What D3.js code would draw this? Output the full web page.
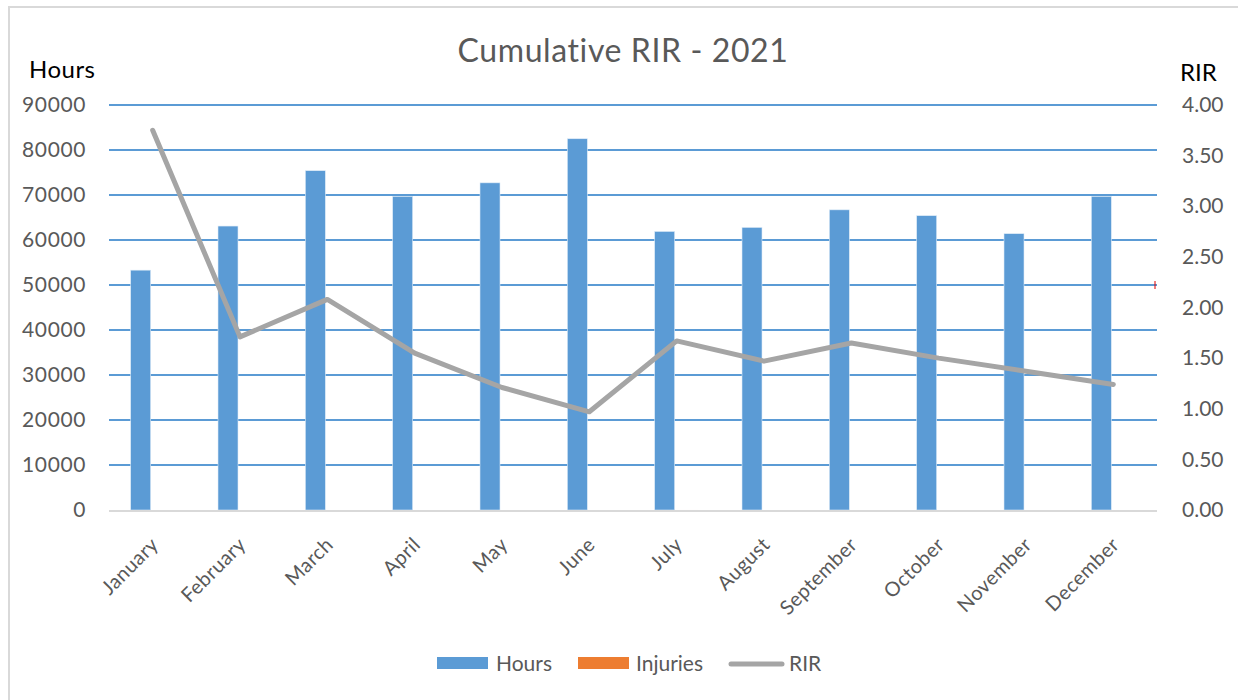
<!DOCTYPE html>
<html>
<head>
<meta charset="utf-8">
<script src="https://cdn.jsdelivr.net/npm/d3@7"></script>
<style>
  body { margin: 0; background: #fff; }
  text { font-family: Lato, "Open Sans", sans-serif; }
</style>
</head>
<body>
<div id="chart"></div>
<script>
// data
var months = ["January", "February", "March", "April", "May", "June",
              "July", "August", "September", "October", "November", "December"];
var hours = [53300, 63100, 75400, 69700, 72700, 82500, 61900, 62800, 66700, 65400, 61400, 69700];
var injuries = [1, 0, 1, 0, 0, 0, 2, 0, 1, 0, 0, 0];
var rir = [3.75, 1.71, 2.08, 1.55, 1.21, 0.97, 1.67, 1.47, 1.65, 1.50, 1.37, 1.24];
var hoursTicks = [0, 10000, 20000, 30000, 40000, 50000, 60000, 70000, 80000, 90000];
var rirTicks = [0, 0.5, 1, 1.5, 2, 2.5, 3, 3.5, 4];
var seriesNames = ["Hours", "Injuries", "RIR"];

var width = 1238, height = 700;
var margin = {top: 105, right: 81, bottom: 190, left: 109};
var blue = "#5b9bd5", orange = "#ed7d31", grey = "#a5a5a5", textGrey = "#595959";

var svg = d3.select("#chart")
  .append("svg")
  .attr("width", width)
  .attr("height", height);

// outer chart border (right/bottom sit outside the picture)
svg.append("rect")
  .attr("x", 9).attr("y", 7)
  .attr("width", 1260).attr("height", 720)
  .attr("fill", "none")
  .attr("stroke", "#d9d9d9")
  .attr("stroke-width", 2);

var x = d3.scaleBand()
  .domain(months)
  .range([margin.left, width - margin.right]);

var xSub = d3.scaleBand()
  .domain(["Hours", "Injuries"])
  .range([-22, 22])
  .paddingInner(0.1667);

var y = d3.scaleLinear()
  .domain([0, 90000])
  .range([height - margin.bottom, margin.top]);

var y2 = d3.scaleLinear()
  .domain([0, 4])
  .range([height - margin.bottom, margin.top]);

// gridlines
svg.append("g")
  .selectAll("line")
  .data(hoursTicks.slice(1))
  .join("line")
    .attr("x1", margin.left)
    .attr("x2", width - margin.right)
    .attr("y1", d => y(d))
    .attr("y2", d => y(d))
    .attr("stroke", blue)
    .attr("stroke-width", 2);

// left axis
var leftAxis = svg.append("g")
  .attr("transform", `translate(${margin.left}, 0)`)
  .call(d3.axisLeft(y).tickValues(hoursTicks).tickSize(0).tickPadding(23).tickFormat(d3.format("d")));
leftAxis.select(".domain").remove();
leftAxis.selectAll("text")
  .attr("fill", textGrey)
  .style("font-size", "21px")
  .style("letter-spacing", "0.6px");

// right axis
var rightAxis = svg.append("g")
  .attr("transform", `translate(${width - margin.right}, 0)`)
  .call(d3.axisRight(y2).tickValues(rirTicks).tickSize(0).tickPadding(25).tickFormat(d3.format(".2f")));
rightAxis.select(".domain").remove();
rightAxis.selectAll("text")
  .attr("fill", textGrey)
  .style("font-size", "21px");

// bars
var groups = svg.append("g")
  .selectAll("g")
  .data(months)
  .join("g")
    .attr("transform", d => `translate(${x(d) + x.bandwidth() / 2}, 0)`);

groups.append("rect")
  .attr("x", xSub("Hours"))
  .attr("width", xSub.bandwidth())
  .attr("y", (d, i) => y(hours[i]))
  .attr("height", (d, i) => y(0) - y(hours[i]))
  .attr("fill", blue)
  .attr("stroke", "#deebf7")
  .attr("stroke-width", 0.6);

groups.append("rect")
  .attr("x", xSub("Injuries"))
  .attr("width", xSub.bandwidth())
  .attr("y", (d, i) => y(injuries[i]))
  .attr("height", (d, i) => y(0) - y(injuries[i]))
  .attr("fill", orange);

// bottom axis line
svg.append("line")
  .attr("x1", margin.left)
  .attr("x2", width - margin.right)
  .attr("y1", y(0) + 1)
  .attr("y2", y(0) + 1)
  .attr("stroke", "#d9d9d9")
  .attr("stroke-width", 2);

// month labels
var bottomAxis = svg.append("g")
  .attr("transform", `translate(0, ${y(0)})`)
  .call(d3.axisBottom(x).tickSize(0).tickPadding(0));
bottomAxis.select(".domain").remove();
bottomAxis.selectAll("text")
  .attr("fill", textGrey)
  .style("font-size", "20px")
  .style("letter-spacing", "0.4px")
  .attr("text-anchor", "end")
  .attr("dy", 0)
  .attr("transform", "translate(7, 36) rotate(-45)");

// RIR line
var line = d3.line()
  .x((d, i) => x(months[i]) + x.bandwidth() / 2)
  .y(d => y2(d));

svg.append("path")
  .datum(rir)
  .attr("d", line)
  .attr("fill", "none")
  .attr("stroke", grey)
  .attr("stroke-width", 5)
  .attr("stroke-linejoin", "round")
  .attr("stroke-linecap", "round");

// small red mark at right end of the 50000 gridline
svg.append("line")
  .attr("x1", width - margin.right - 2)
  .attr("x2", width - margin.right - 2)
  .attr("y1", y(50000) - 4)
  .attr("y2", y(50000) + 4)
  .attr("stroke", "#e00000")
  .attr("stroke-width", 1);

// title and axis titles
svg.append("text")
  .attr("x", 623).attr("y", 62)
  .attr("text-anchor", "middle")
  .attr("fill", textGrey)
  .style("font-size", "32px")
  .style("letter-spacing", "0.6px")
  .text("Cumulative RIR - 2021");

svg.append("text")
  .attr("x", 29).attr("y", 78)
  .attr("fill", "#000")
  .style("font-size", "24px")
  .style("letter-spacing", "0.5px")
  .text("Hours");

svg.append("text")
  .attr("x", 1180).attr("y", 81)
  .attr("fill", "#000")
  .style("font-size", "24px")
  .text("RIR");

// legend
var legendX = [437, 578, 729];
var legendTextX = [496, 636, 789];
var legend = svg.append("g");
seriesNames.forEach((name, i) => {
  if (name === "RIR") {
    legend.append("line")
      .attr("x1", legendX[i] + 2).attr("x2", legendX[i] + 53)
      .attr("y1", 664).attr("y2", 664)
      .attr("stroke", grey)
      .attr("stroke-width", 5)
      .attr("stroke-linecap", "round");
  } else {
    legend.append("rect")
      .attr("x", legendX[i]).attr("y", 657)
      .attr("width", 51).attr("height", 12)
      .attr("fill", i === 0 ? blue : orange);
  }
  legend.append("text")
    .attr("x", legendTextX[i]).attr("y", 664)
    .attr("dy", "0.35em")
    .attr("fill", textGrey)
    .style("font-size", "21px")
    .text(name);
});
</script>
</body>
</html>
